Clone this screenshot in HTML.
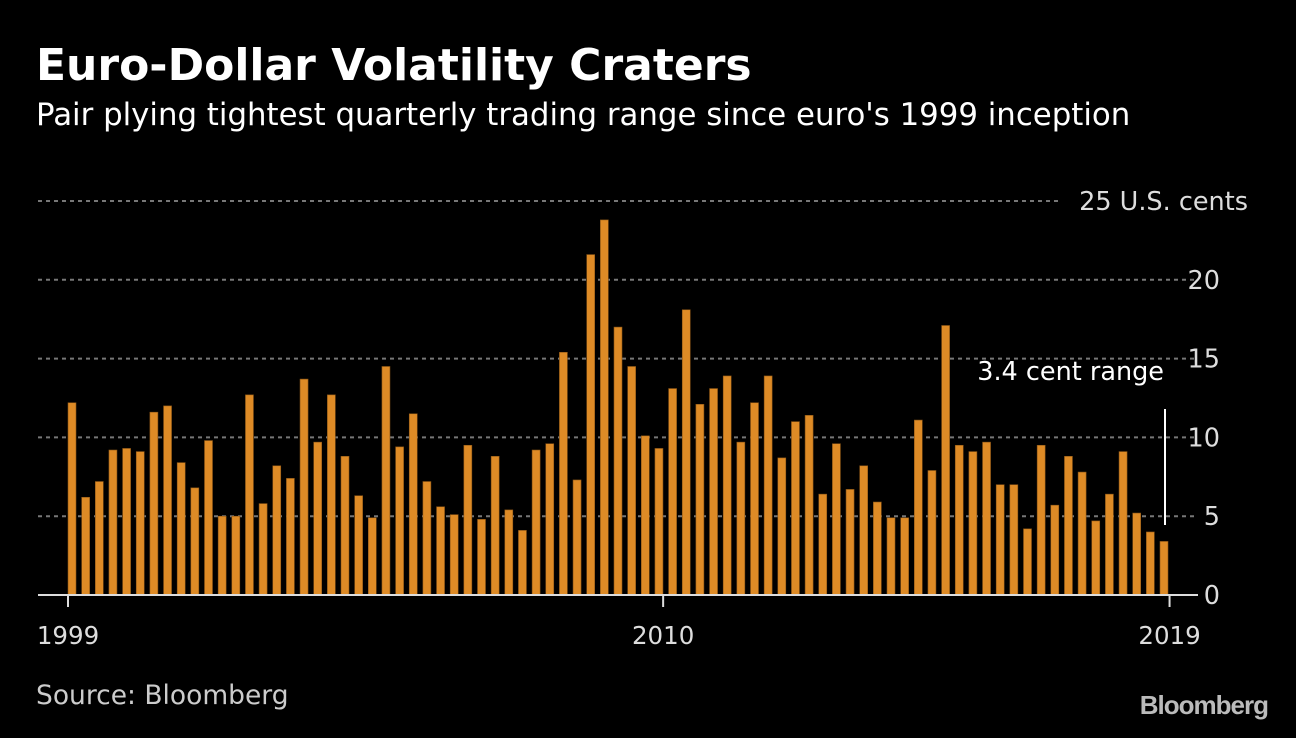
<!DOCTYPE html>
<html><head><meta charset="utf-8"><style>
body{margin:0;background:#000;width:1296px;height:734px;overflow:hidden;font-family:"DejaVu Sans","Liberation Sans",sans-serif;}
</style></head><body>
<svg width="1296" height="734" xmlns="http://www.w3.org/2000/svg">
<text x="36" y="80" fill="#fff" font-size="44" font-weight="bold">Euro-Dollar Volatility Craters</text>
<text x="36" y="125" fill="#fff" font-size="30.8">Pair plying tightest quarterly trading range since euro's 1999 inception</text>
<g id="grid"></g><g id="bars"></g><g id="axis"></g>
<text x="1164" y="380" fill="#fff" font-size="25.5" text-anchor="end">3.4 cent range</text>
<line x1="1165" y1="409" x2="1165" y2="525" stroke="#fff" stroke-width="2"/>
<text x="36" y="704" fill="#ccc" font-size="26.5">Source: Bloomberg</text>
<text x="1268" y="714" fill="#bbb" font-size="26" font-weight="bold" text-anchor="end" font-family="Liberation Sans, sans-serif" letter-spacing="-1">Bloomberg</text>
</svg>
<script>
const values=[12.2,6.2,7.2,9.2, 9.3,9.1,11.6,12.0, 8.4,6.8,9.8,5.0, 5.0,12.7,5.8,8.2, 7.4,13.7,9.7,12.7, 8.8,6.3,4.9,14.5, 9.4,11.5,7.2,5.6, 5.1,9.5,4.8,8.8, 5.4,4.1,9.2,9.6, 15.4,7.3,21.6,23.8, 17.0,14.5,10.1,9.3, 13.1,18.1,12.1,13.1, 13.9,9.7,12.2,13.9, 8.7,11.0,11.4,6.4, 9.6,6.7,8.2,5.9, 4.9,4.9,11.1,7.9, 17.1,9.5,9.1,9.7, 7.0,7.0,4.2,9.5, 5.7,8.8,7.8,4.7, 6.4,9.1,5.2,4.0, 3.4];
const yTicks=[0,5,10,15,20,25];
const yTickLabels=["0","5","10","15","20","25 U.S. cents"];
const xTickLabels=["1999","2010","2019"];
const xTickQuarters=[0,43.6,80.7];
const NS="http://www.w3.org/2000/svg";
const y=v=>595-v*15.76;
const step=13.65, x0=68, bw=8;
const xq=i=>x0+i*step;
function mk(t,a,p){const e=document.createElementNS(NS,t);for(const k in a)e.setAttribute(k,a[k]);p.appendChild(e);return e;}
const grid=document.getElementById('grid'),bars=document.getElementById('bars'),axis=document.getElementById('axis');
yTicks.forEach((v,i)=>{
 if(v>0){const l=mk('line',{x1:38,x2:v===25?1058:1198,y1:y(v),y2:y(v),stroke:'#777','stroke-width':2,'stroke-dasharray':'4 4'},grid);
 
 }
 const t=mk('text',{x:1248,y:y(v)+9,fill:'#ddd','font-size':25.5,'text-anchor':'end'},axis);
 if(v!==25){t.setAttribute('x',1220);}
 t.textContent=yTickLabels[i];
 
 
});
values.forEach((v,i)=>{
 const r=mk('rect',{x:xq(i),y:y(v),width:bw,height:595-y(v),fill:'#de8b26',stroke:'#8a5516','stroke-width':0.6},bars);
 
 
});
const al=mk('line',{x1:38,x2:1198,y1:595,y2:595,stroke:'#ddd','stroke-width':2},axis);


xTickLabels.forEach((lab,i)=>{
 const tx=xq(xTickQuarters[i]);
 const tk=mk('line',{x1:tx,x2:tx,y1:595,y2:607,stroke:'#ddd','stroke-width':2},axis);
 
 
 const t=mk('text',{x:tx,y:644,fill:'#ddd','font-size':24.5,'text-anchor':'middle'},axis);
 t.textContent=lab;
 
 
});
</script>
</body></html>
